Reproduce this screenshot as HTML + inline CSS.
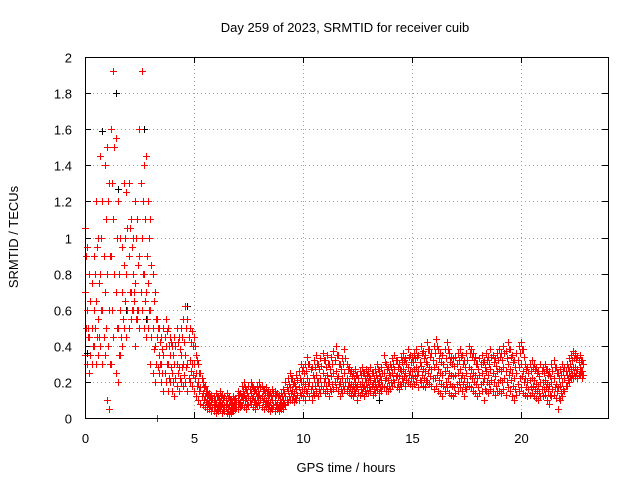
<!DOCTYPE html>
<html><head><meta charset="utf-8"><style>
body{margin:0;background:#fff;width:640px;height:480px;overflow:hidden}
svg text{font-family:"Liberation Sans",sans-serif;font-size:13px;fill:#000}
</style></head><body>
<svg id="chart" width="640" height="480" xmlns="http://www.w3.org/2000/svg">
<rect x="0" y="0" width="640" height="480" fill="#fff"/>
<g id="grid"></g>
<g id="ticks"></g>
<g id="marks"></g>
<rect x="85.5" y="57.5" width="523" height="361" fill="none" stroke="#000" stroke-width="1"/>
<text x="345" y="32" text-anchor="middle">Day 259 of 2023, SRMTID for receiver cuib</text>
<text x="346" y="472" text-anchor="middle">GPS time / hours</text>
<text x="0" y="0" text-anchor="middle" transform="translate(18,237) rotate(-90)">SRMTID / TECUs</text>
</svg>
<script>
const xTicks=[0,5,10,15,20];
const yTicks=[0,0.2,0.4,0.6,0.8,1,1.2,1.4,1.6,1.8,2];
const yTickLabels=["0","0.2","0.4","0.6","0.8","1","1.2","1.4","1.6","1.8","2"];
const hours=[0,.1,.2,.3,.4,.5,.6,.7,.8,.9,1,1.1,1.2,1.3,1.4,1.5,1.6,1.7,1.8,1.9,2,2.1,2.2,2.3,2.4,2.5,2.6,2.7,2.8,2.9,3,3.1,3.2,3.3,3.4,3.5,3.6,3.7,3.8,3.9,4,4.1,4.2,4.3,4.4,4.5,4.6,4.7,4.8,4.9,5,5.1,5.2,5.3,5.4,5.5,5.6,5.7,5.8,5.9,6,6.1,6.2,6.3,6.4,6.5,6.6,6.7,6.8,6.9,7,7.1,7.2,7.3,7.4,7.5,7.6,7.7,7.8,7.9,8,8.1,8.2,8.3,8.4,8.5,8.6,8.7,8.8,8.9,9,9.1,9.2,9.3,9.4,9.5,9.6,9.7,9.8,9.9,10,10.1,10.2,10.3,10.4,10.5,10.6,10.7,10.8,10.9,11,11.1,11.2,11.3,11.4,11.5,11.6,11.7,11.8,11.9,12,12.1,12.2,12.3,12.4,12.5,12.6,12.7,12.8,12.9,13,13.1,13.2,13.3,13.4,13.5,13.6,13.7,13.8,13.9,14,14.1,14.2,14.3,14.4,14.5,14.6,14.7,14.8,14.9,15,15.1,15.2,15.3,15.4,15.5,15.6,15.7,15.8,15.9,16,16.1,16.2,16.3,16.4,16.5,16.6,16.7,16.8,16.9,17,17.1,17.2,17.3,17.4,17.5,17.6,17.7,17.8,17.9,18,18.1,18.2,18.3,18.4,18.5,18.6,18.7,18.8,18.9,19,19.1,19.2,19.3,19.4,19.5,19.6,19.7,19.8,19.9,20,20.1,20.2,20.3,20.4,20.5,20.6,20.7,20.8,20.9,21,21.1,21.2,21.3,21.4,21.5,21.6,21.7,21.8,21.9,22,22.1,22.2,22.3,22.4,22.5,22.6,22.7,22.8];
const srmtidHigh=[1.05,0.95,0.8,0.75,0.9,1.2,1.0,1.45,1.2,1.4,
1.5,1.3,1.6,1.92,1.55,1.2,1.0,0.95,1.3,1.25,
1.3,1.1,1.0,1.2,1.1,1.6,1.92,1.4,1.45,1.2,
1.1,0.8,0.7,0.55,0.5,0.45,0.5,0.55,0.5,0.45,
0.4,0.45,0.5,0.45,0.5,0.55,0.62,0.55,0.5,0.48,
0.45,0.35,0.3,0.25,0.2,0.18,0.15,0.14,0.13,0.12,
0.14,0.12,0.15,0.13,0.12,0.14,0.12,0.1,0.12,0.11,
0.15,0.14,0.18,0.2,0.16,0.18,0.2,0.17,0.16,0.18,
0.2,0.18,0.16,0.17,0.15,0.14,0.16,0.15,0.14,0.13,
0.14,0.16,0.2,0.22,0.25,0.22,0.2,0.24,0.26,0.3,
0.28,0.3,0.34,0.3,0.28,0.32,0.35,0.3,0.33,0.36,
0.32,0.35,0.3,0.34,0.37,0.4,0.35,0.3,0.33,0.38,
0.3,0.28,0.26,0.25,0.27,0.24,0.26,0.28,0.25,0.27,
0.26,0.28,0.25,0.27,0.3,0.26,0.28,0.35,0.3,0.28,
0.3,0.33,0.35,0.32,0.3,0.34,0.36,0.33,0.38,0.35,
0.34,0.36,0.38,0.35,0.4,0.37,0.35,0.42,0.38,0.36,
0.4,0.44,0.38,0.36,0.35,0.38,0.42,0.36,0.34,0.33,
0.34,0.36,0.38,0.35,0.32,0.36,0.4,0.38,0.36,0.34,
0.3,0.33,0.35,0.32,0.36,0.34,0.38,0.35,0.33,0.36,
0.38,0.36,0.4,0.37,0.42,0.38,0.35,0.32,0.36,0.4,
0.42,0.38,0.3,0.28,0.3,0.32,0.3,0.28,0.26,0.3,
0.28,0.3,0.27,0.26,0.3,0.32,0.28,0.25,0.27,0.3,
0.28,0.3,0.33,0.35,0.37,0.36,0.34,0.35,0.32];
const srmtidUpperMid=[0.9,0.5,0.65,0.4,0.8,0.95,0.75,1.0,0.9,1.1,
1.2,0.9,1.3,1.5,1.0,0.8,0.45,0.55,1.0,1.05,
1.05,0.95,0.65,1.0,0.85,1.3,1.2,1.1,0.9,1.0,
0.85,0.65,0.55,0.5,0.42,0.38,0.45,0.48,0.4,0.42,
0.35,0.4,0.42,0.38,0.45,0.42,0.5,0.45,0.42,0.4,
0.4,0.32,0.25,0.22,0.17,0.15,0.13,0.12,0.11,0.1,
0.12,0.1,0.12,0.11,0.1,0.11,0.1,0.09,0.1,0.09,
0.13,0.12,0.15,0.17,0.14,0.16,0.18,0.15,0.14,0.15,
0.17,0.15,0.14,0.14,0.13,0.12,0.14,0.13,0.12,0.1,
0.12,0.14,0.17,0.19,0.22,0.19,0.18,0.21,0.22,0.26,
0.25,0.26,0.3,0.27,0.24,0.28,0.3,0.27,0.29,0.32,
0.28,0.3,0.27,0.3,0.32,0.35,0.3,0.27,0.3,0.33,
0.27,0.25,0.23,0.22,0.24,0.22,0.24,0.25,0.22,0.24,
0.23,0.25,0.22,0.24,0.27,0.23,0.25,0.31,0.27,0.25,
0.28,0.3,0.32,0.28,0.27,0.31,0.32,0.3,0.34,0.31,
0.31,0.33,0.34,0.31,0.36,0.33,0.31,0.38,0.34,0.32,
0.36,0.4,0.33,0.31,0.3,0.33,0.38,0.31,0.3,0.29,
0.3,0.32,0.34,0.3,0.28,0.32,0.36,0.34,0.32,0.3,
0.27,0.3,0.31,0.28,0.32,0.3,0.34,0.31,0.29,0.32,
0.34,0.32,0.36,0.33,0.38,0.34,0.31,0.28,0.32,0.36,
0.38,0.34,0.27,0.25,0.26,0.28,0.27,0.25,0.23,0.26,
0.25,0.27,0.24,0.23,0.26,0.28,0.25,0.22,0.24,0.26,
0.26,0.28,0.3,0.32,0.33,0.33,0.31,0.32,0.3];
const srmtidMid=[0.7,0.6,0.45,0.5,0.6,0.65,0.55,0.8,0.6,0.7,
0.8,0.6,0.9,1.1,0.7,0.5,0.6,0.7,0.85,0.8,
0.9,0.7,0.8,0.75,0.6,0.9,1.0,0.8,0.7,0.75,
0.6,0.5,0.4,0.45,0.35,0.3,0.35,0.4,0.3,0.35,
0.25,0.3,0.3,0.28,0.35,0.3,0.35,0.3,0.32,0.3,
0.3,0.25,0.2,0.17,0.14,0.12,0.1,0.1,0.09,0.08,
0.08,0.07,0.09,0.08,0.07,0.08,0.07,0.06,0.07,0.08,
0.1,0.09,0.12,0.13,0.11,0.12,0.14,0.12,0.1,0.12,
0.13,0.12,0.11,0.1,0.1,0.09,0.1,0.1,0.08,0.07,
0.09,0.1,0.12,0.15,0.17,0.15,0.14,0.16,0.17,0.2,
0.2,0.19,0.22,0.2,0.18,0.22,0.24,0.2,0.22,0.25,
0.22,0.24,0.2,0.23,0.25,0.26,0.23,0.2,0.22,0.25,
0.22,0.2,0.19,0.18,0.2,0.18,0.19,0.2,0.18,0.2,
0.2,0.21,0.19,0.2,0.22,0.2,0.21,0.25,0.22,0.21,
0.24,0.25,0.27,0.24,0.23,0.26,0.27,0.25,0.28,0.26,
0.26,0.27,0.28,0.26,0.29,0.27,0.26,0.3,0.28,0.27,
0.28,0.3,0.27,0.25,0.24,0.26,0.28,0.25,0.24,0.23,
0.24,0.25,0.27,0.24,0.22,0.25,0.28,0.27,0.25,0.24,
0.22,0.24,0.25,0.22,0.26,0.24,0.27,0.25,0.23,0.26,
0.27,0.26,0.28,0.26,0.3,0.27,0.25,0.22,0.25,0.28,
0.3,0.26,0.22,0.2,0.21,0.22,0.21,0.19,0.18,0.2,
0.2,0.21,0.19,0.18,0.2,0.22,0.19,0.17,0.18,0.2,
0.22,0.24,0.26,0.27,0.28,0.28,0.27,0.28,0.26];
const srmtidLowerMid=[0.5,0.45,0.35,0.4,0.5,0.45,0.45,0.6,0.45,0.5,
0.4,0.3,0.6,0.8,0.5,0.35,0.45,0.55,0.65,0.6,
0.7,0.6,0.7,0.55,0.6,0.7,0.8,0.65,0.55,0.6,
0.45,0.38,0.3,0.28,0.3,0.25,0.25,0.3,0.22,0.28,
0.2,0.22,0.25,0.22,0.28,0.24,0.28,0.22,0.26,0.24,
0.22,0.18,0.15,0.12,0.1,0.09,0.08,0.07,0.06,0.06,
0.05,0.06,0.07,0.05,0.06,0.05,0.04,0.05,0.06,0.06,
0.08,0.07,0.1,0.1,0.08,0.1,0.11,0.09,0.08,0.1,
0.1,0.09,0.08,0.08,0.07,0.06,0.07,0.07,0.06,0.06,
0.07,0.08,0.1,0.12,0.14,0.12,0.11,0.13,0.14,0.16,
0.16,0.15,0.18,0.16,0.14,0.18,0.2,0.16,0.18,0.2,
0.18,0.2,0.16,0.19,0.2,0.22,0.19,0.16,0.18,0.2,
0.18,0.17,0.16,0.15,0.17,0.14,0.16,0.17,0.15,0.17,
0.17,0.18,0.16,0.17,0.19,0.17,0.18,0.21,0.18,0.18,
0.2,0.21,0.23,0.2,0.19,0.22,0.23,0.21,0.24,0.22,
0.22,0.23,0.24,0.21,0.24,0.22,0.21,0.25,0.23,0.22,
0.22,0.24,0.21,0.19,0.18,0.2,0.22,0.19,0.18,0.17,
0.19,0.2,0.22,0.19,0.17,0.2,0.23,0.22,0.2,0.19,
0.17,0.19,0.2,0.16,0.2,0.19,0.21,0.2,0.18,0.2,
0.21,0.2,0.22,0.2,0.24,0.21,0.18,0.16,0.19,0.22,
0.23,0.2,0.17,0.16,0.17,0.18,0.16,0.15,0.14,0.16,
0.16,0.17,0.15,0.13,0.16,0.17,0.15,0.11,0.14,0.16,
0.18,0.21,0.23,0.24,0.25,0.25,0.24,0.26,0.24];
const srmtidLow=[0.35,0.3,0.25,0.3,0.4,0.3,0.35,0.4,0.3,0.35,
0.1,0.05,0.3,0.45,0.25,0.2,0.35,0.4,0.5,0.45,
0.5,0.55,0.6,0.4,0.55,0.5,0.6,0.5,0.45,0.5,
0.3,0.25,0.2,0.0,0.25,0.2,0.15,0.2,0.15,0.2,
0.15,0.12,0.18,0.15,0.2,0.18,0.2,0.15,0.2,0.18,
0.15,0.12,0.1,0.08,0.07,0.06,0.05,0.05,0.04,0.04,
0.03,0.04,0.05,0.03,0.04,0.03,0.02,0.03,0.04,0.05,
0.05,0.06,0.07,0.06,0.05,0.07,0.08,0.06,0.05,0.07,
0.07,0.06,0.05,0.06,0.05,0.04,0.05,0.04,0.05,0.04,
0.05,0.05,0.07,0.09,0.1,0.1,0.09,0.1,0.1,0.13,
0.12,0.1,0.14,0.12,0.1,0.13,0.15,0.12,0.14,0.16,
0.14,0.15,0.12,0.15,0.16,0.17,0.15,0.12,0.14,0.16,
0.15,0.14,0.13,0.12,0.14,0.1,0.13,0.14,0.12,0.14,
0.14,0.15,0.13,0.14,0.16,0.14,0.15,0.17,0.15,0.15,
0.16,0.18,0.2,0.17,0.16,0.18,0.2,0.18,0.2,0.19,
0.18,0.19,0.2,0.17,0.2,0.18,0.17,0.2,0.19,0.18,
0.16,0.18,0.15,0.14,0.12,0.15,0.17,0.14,0.13,0.12,
0.14,0.15,0.17,0.15,0.12,0.16,0.18,0.17,0.15,0.14,
0.12,0.14,0.15,0.1,0.15,0.14,0.16,0.15,0.13,0.15,
0.15,0.14,0.16,0.13,0.17,0.15,0.12,0.1,0.13,0.15,
0.17,0.14,0.13,0.12,0.13,0.14,0.12,0.11,0.1,0.12,
0.12,0.13,0.1,0.08,0.12,0.13,0.11,0.05,0.1,0.12,
0.15,0.18,0.2,0.22,0.22,0.23,0.22,0.24,0.22];
const blackHours=[0.1,0.8,1.4,1.5,1.9,2.7,2.8,4.7,13.5,20.0];
const blackValues=[0.36,1.59,1.8,1.27,0.6,1.6,0.55,0.62,0.1,0.42];

const X0=85,X1=608,Y0=418,Y1=57,XMAX=24,YMAX=2;
function xs(h){return X0+h/XMAX*(X1-X0);}
function ys(v){return Y0-v/YMAX*(Y0-Y1);}
const NS="http://www.w3.org/2000/svg";
const grid=document.getElementById('grid'),ticks=document.getElementById('ticks'),marks=document.getElementById('marks');
function mk(tag,attrs,parent){const e=document.createElementNS(NS,tag);for(const k in attrs)e.setAttribute(k,attrs[k]);parent.appendChild(e);return e;}
xTicks.forEach((t,i)=>{
  const x=Math.round(xs(t))+0.5;
  if(t>0){const g=mk('line',{x1:x,x2:x,y1:Y1,y2:Y0,stroke:'#a0a0a0','stroke-dasharray':'1,3'},grid);
  
  }
  mk('line',{x1:x,x2:x,y1:Y0,y2:Y0-6,stroke:'#000'},ticks);
  mk('line',{x1:x,x2:x,y1:Y1,y2:Y1+6,stroke:'#000'},ticks);
  const tx=mk('text',{x:x,y:443,'text-anchor':'middle'},ticks);tx.textContent=String(t);
  
  
});
yTicks.forEach((t,i)=>{
  const y=Math.round(ys(t))+0.5;
  if(t>0&&t<YMAX){const g=mk('line',{x1:X0,x2:X1,y1:y,y2:y,stroke:'#a0a0a0','stroke-dasharray':'1,3'},grid);
  
  }
  mk('line',{x1:X0,x2:X0+6,y1:y,y2:y,stroke:'#000'},ticks);
  mk('line',{x1:X1,x2:X1-6,y1:y,y2:y,stroke:'#000'},ticks);
  const tx=mk('text',{x:72,y:y+5,'text-anchor':'end'},ticks);tx.textContent=yTickLabels[i];
  
  
});
// filled plus shape (avoids stroke overlap artifacts)
function plus(h,v){const x=Math.round(xs(h)),y=Math.round(ys(v));
  return 'M'+(x-3)+' '+y+'h7v1h-7zM'+x+' '+(y-3)+'h1v7h-1z';}
let dB='';blackHours.forEach((h,i)=>{dB+=plus(h,blackValues[i]);});
const pb=mk('path',{d:dB,fill:'#000'},marks);


let dR='';hours.forEach((h,i)=>{
  dR+=plus(h,srmtidHigh[i])+plus(h,srmtidMid[i])+plus(h,srmtidLow[i]);
  dR+=plus(h+0.05,srmtidUpperMid[i])+plus(h+0.05,srmtidLowerMid[i]);
});
const pr=mk('path',{d:dR,fill:'#ff0000'},marks);


</script>
</body></html>
